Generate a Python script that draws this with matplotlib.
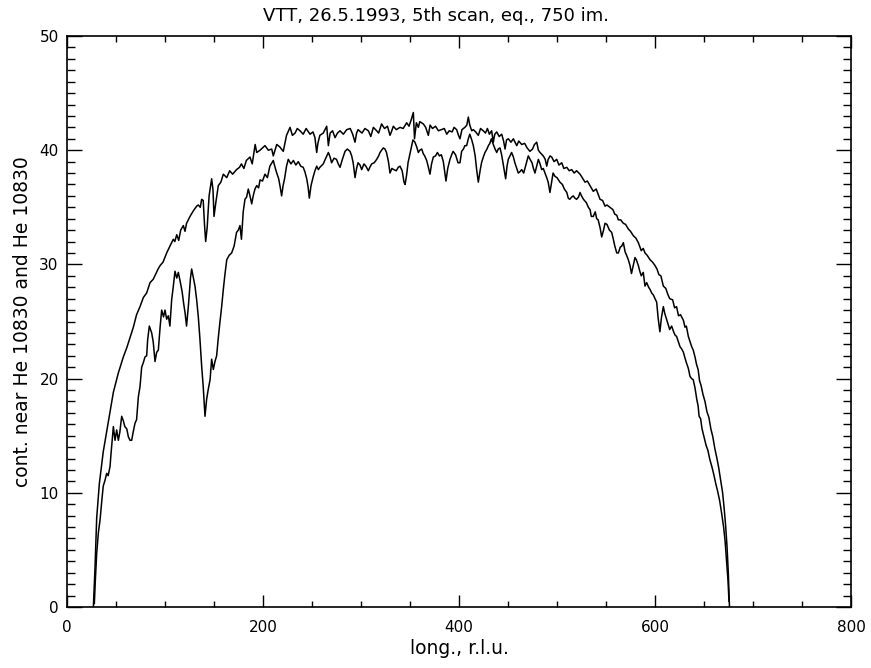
import matplotlib
matplotlib.use("Agg")
import matplotlib.pyplot as plt
from matplotlib.ticker import MultipleLocator

title = "VTT, 26.5.1993, 5th scan, eq., 750 im."
xlabel = "long., r.l.u."
ylabel = "cont. near He 10830 and He 10830"

# Upper curve (continuum near He 10830)
cont_x = [26.9, 28.6, 30.3, 33, 37, 42, 47.3, 52.4, 57.5, 61, 64.3, 67.7, 71, 74.5, 77.9, 81.3, 84.7, 88, 93, 95, 98,
          101.7, 105, 108.5, 110, 112, 114, 116, 118.7, 120.4, 122, 125.5, 129, 132.3, 134, 136, 137.4, 139, 140.3,
          141.5, 143, 145, 147.6, 149, 150, 152, 154.4, 157, 159.5, 163, 166, 169, 173, 176, 178, 180.5, 183, 186.7,
          189, 192, 193.6, 197, 202, 205.5, 208.9, 210.5, 214, 217, 220.7, 224, 227.6, 230, 232.7, 235, 237.8, 241,
          244, 248, 251, 253, 254.8, 256, 258, 261.5, 265, 266.7, 268.5, 271, 273.5, 276, 278.6, 282, 285.4, 289,
          291.5, 293.9, 295.5, 297, 301, 304, 307.5, 310, 312.6, 316, 318, 321, 324, 327, 329.6, 331, 333, 336,
          339.8, 343, 346.6, 349, 351, 353.4, 354.6, 356.5, 358.5, 360, 363.6, 366, 368.7, 370.5, 373, 376, 379, 382,
          385, 387.5, 390, 393, 395, 397.6, 399.5, 401, 403, 406, 408, 409.5, 411, 413, 414.6, 417, 419.7, 422,
          424.8, 427, 429, 431, 433.3, 435, 436.5, 438.5, 441, 443.6, 445.5, 447, 448.5, 450.3, 453, 455.5, 458.9,
          461, 464, 467, 469.5, 472.4, 475, 477, 479.3, 481, 482.7, 486, 488, 489.5, 491, 493, 494.6, 497, 499.7,
          502, 504.8, 507, 510, 512.5, 515, 517.5, 520, 523.5, 525, 528.6, 531, 533.7, 537, 540, 543.9, 546.5, 549,
          551, 554, 557, 559, 561, 562.6, 565, 567.7, 570, 572.8, 575, 578, 580.5, 583, 586, 588, 589.8, 592, 595,
          597.5, 600, 602, 604, 606, 608.5, 611, 613, 615, 618, 620, 622, 624, 626, 629, 630.6, 632, 634, 635.5,
          637.4, 639, 640.8, 642.5, 644, 645.5, 647, 649, 651, 653, 655, 657, 659, 661, 663, 665, 667, 669, 670.5,
          672, 673.5, 674.8, 676]
cont_y = [0.0, 3.5, 7.8, 10.8, 13.6, 16.1, 18.8, 20.5, 21.9, 22.7, 23.6, 24.5, 25.6, 26.3, 27.1, 27.5, 28.4, 28.7, 29.6,
          29.9, 30.2, 31.0, 31.6, 32.2, 32.0, 32.6, 32.1, 33.0, 33.4, 32.9, 33.6, 34.2, 34.7, 35.1, 35.2, 35.0, 35.7,
          35.6, 33.5, 32.0, 33.2, 36.0, 37.5, 36.5, 34.2, 35.5, 36.9, 37.2, 37.9, 37.6, 38.2, 37.9, 38.3, 38.5, 38.8,
          38.4, 39.1, 39.4, 38.8, 40.5, 39.8, 40.0, 40.4, 40.0, 40.1, 39.5, 40.5, 40.3, 39.9, 41.3, 42.0, 41.3, 41.5,
          41.9, 41.7, 41.4, 41.9, 41.4, 41.6, 41.1, 39.8, 40.6, 41.3, 41.5, 42.1, 40.4, 41.5, 41.7, 41.1, 41.5, 41.7,
          41.4, 41.8, 41.9, 41.4, 40.7, 41.5, 41.8, 41.5, 41.9, 41.7, 41.2, 42.0, 41.7, 41.5, 42.3, 41.9, 42.1, 41.3,
          41.6, 42.1, 41.8, 42.0, 41.9, 42.4, 42.1, 42.6, 43.3, 41.0, 42.4, 42.0, 42.5, 42.3, 42.0, 41.3, 42.2, 41.9,
          42.1, 41.7, 41.8, 41.9, 41.4, 41.7, 41.6, 42.0, 41.8, 41.3, 41.0, 41.8, 42.0, 42.2, 42.9, 42.2, 41.7, 41.8,
          41.6, 41.3, 41.9, 41.7, 41.5, 41.9, 41.4, 41.7, 40.7, 41.4, 41.6, 41.2, 41.4, 40.8, 40.1, 40.9, 41.0, 40.7,
          41.0, 40.4, 40.8, 40.5, 40.6, 40.2, 39.9, 40.1, 40.5, 40.7, 40.0, 39.8, 39.5, 39.2, 38.6, 39.2, 39.5, 39.4,
          39.0, 39.2, 38.7, 38.9, 38.4, 38.5, 38.2, 38.3, 38.0, 38.2, 37.9, 37.7, 37.2, 37.3, 36.9, 36.4, 36.6, 35.7,
          35.6, 35.1, 35.2, 35.0, 34.8, 34.4, 34.3, 33.9, 33.9, 33.6, 33.5, 33.1, 32.9, 32.5, 32.3, 31.9, 31.2, 31.4,
          31.0, 30.8, 30.4, 30.2, 29.9, 29.6, 29.1, 29.0, 28.1, 27.9, 27.4, 27.0, 26.9, 26.2, 26.3, 25.5, 25.6, 25.1,
          24.5, 24.6, 23.7, 23.3, 22.8, 22.5, 21.9, 21.2, 20.8, 19.8, 19.4, 18.6, 18.0, 17.1, 16.6, 15.6, 14.9, 13.9,
          13.1, 12.2, 11.1, 10.0, 8.7, 7.2, 5.3, 3.0, 0.0]

# Lower curve (He 10830 line)
he_x = [27.9, 29, 30.3, 32, 33.7, 35.5, 37, 38.8, 40.5, 42, 43.9, 45, 47.3, 49, 50.7, 52.4, 53.9, 55.8, 57.5, 59, 61,
        62.6, 64.3, 66, 67.5, 69.4, 71, 72.8, 74.5, 76.2, 77.9, 79.6, 81.3, 82.3, 84, 86.4, 88, 89.8, 91.5, 93.2, 95,
        96.6, 98.5, 100, 101.7, 103.4, 105, 106.8, 108.5, 110.2, 112, 113.6, 115.5, 117.5, 119, 120.4, 122, 124,
        126, 127.2, 129, 130.6, 132.3, 134, 135.7, 137.4, 139, 140.8, 142.5, 144, 146, 147.6, 149.3, 151, 152.7,
        154.3, 156, 157.7, 159.5, 161, 163, 165.5, 168, 170.5, 173, 174.8, 176.5, 178, 179.8, 181.6, 183.3, 185,
        186.7, 188.5, 190, 191.8, 193.6, 195.5, 197, 199.5, 202, 204.5, 207, 210.5, 212, 214, 216, 217.5, 219,
        220.5, 222, 224, 225.8, 228.5, 231, 233.5, 236, 238.5, 241, 242.8, 244.6, 246, 247.3, 249, 251.3, 253,
        254.8, 256.5, 258, 261.5, 263.5, 266.7, 268.5, 270, 272.5, 275, 276.8, 278.6, 281, 283.7, 286, 288.8, 290.5,
        292, 293.9, 295.5, 297, 299, 300.7, 303, 305, 307.5, 309, 310.9, 313.5, 316, 318, 319.4, 321, 322.8, 324.5,
        326, 328, 329.6, 331.5, 333.5, 336, 338, 339.8, 342, 343.9, 345, 346.5, 348, 350, 351.7, 353, 355, 356.8,
        358.5, 360, 362, 363.5, 365, 367, 368.5, 370.4, 372, 373.8, 376, 378, 380, 382, 384, 386.7, 388.5, 390.8,
        392.5, 394, 396.5, 399, 401, 402.7, 404.5, 406, 407.8, 409.5, 411, 413, 414.6, 416.5, 418, 419.7, 421.5,
        423, 424.8, 426.5, 428.5, 430, 431.5, 433, 435, 436.8, 438.5, 440, 441.8, 443.5, 445.5, 447.6, 449, 450.3,
        452, 453.7, 455.5, 457, 459, 460.5, 462, 464, 466, 468.5, 470.7, 472.5, 474.5, 476, 477.5, 479.3, 481,
        482.7, 484.4, 486, 487.8, 489.5, 491, 492.8, 494.5, 496, 498, 500, 503, 505.5, 507.5, 510, 511.5, 513, 515,
        516.6, 518.3, 520, 522, 523.5, 525, 527, 530, 532, 533.7, 535, 537, 539, 540.5, 542, 544, 545.6, 547.5, 549,
        551, 553.5, 555.8, 557.5, 559, 561, 562.6, 564.5, 566, 567.7, 569.5, 571, 572.8, 574.5, 576, 577.8, 579.6,
        581, 583, 584.5, 586, 588, 589.8, 591.5, 593.5, 595, 596.6, 598.5, 600, 601.7, 603.2, 605, 606.5, 608.5,
        610, 611.8, 613.5, 615, 617, 619, 620.5, 622, 624, 625.5, 627.2, 629, 630.6, 632, 634, 635.7, 637.3, 639,
        640.8, 642.6, 644, 645, 646.5, 648, 650, 652, 654, 656, 658, 660, 662, 664, 666, 668, 670, 671.5, 673,
        674.5, 675.5]
he_y = [0.3, 2.5, 4.7, 6.5, 7.6, 9.3, 10.6, 11.1, 11.7, 11.5, 12.3, 13.5, 15.8, 14.6, 15.5, 14.6, 15.3, 16.7, 16.3,
        15.8, 15.6, 14.9, 14.6, 14.6, 15.3, 16.1, 16.4, 18.4, 19.3, 21.0, 21.4, 21.9, 22.0, 23.4, 24.6, 24.0, 23.2,
        21.5, 22.3, 22.5, 24.5, 26.0, 25.4, 26.0, 25.2, 25.5, 24.6, 26.9, 28.1, 29.4, 28.8, 29.3, 28.5, 27.6, 26.6,
        25.8, 24.6, 26.5, 28.8, 29.6, 28.8, 28.1, 26.9, 25.4, 23.4, 21.1, 19.3, 16.7, 18.2, 19.0, 19.9, 21.7, 20.8,
        21.5, 22.0, 23.5, 24.9, 26.2, 27.8, 29.0, 30.4, 30.8, 31.0, 31.6, 32.8, 33.0, 33.4, 32.2, 34.6, 35.7, 35.9,
        36.6, 36.0, 35.3, 36.0, 36.6, 36.9, 36.7, 37.4, 37.3, 37.9, 37.6, 38.6, 39.1, 38.6, 38.0, 37.5, 36.8, 36.0,
        36.9, 37.5, 38.6, 39.2, 38.8, 39.1, 38.7, 39.0, 38.6, 38.5, 38.1, 37.5, 36.8, 35.8, 36.9, 37.7, 38.2, 38.6,
        38.3, 38.5, 38.8, 39.2, 39.8, 39.4, 38.9, 39.3, 39.2, 38.8, 38.5, 39.2, 39.9, 40.1, 39.9, 39.5, 38.9, 37.6,
        38.4, 38.9, 38.7, 38.3, 38.8, 38.6, 38.2, 38.5, 38.8, 38.9, 39.2, 39.5, 39.8, 40.0, 40.2, 40.1, 39.8, 39.0,
        38.0, 38.4, 38.3, 38.2, 38.5, 38.6, 38.2, 37.2, 37.0, 37.8, 38.9, 39.7, 40.4, 40.9, 40.7, 40.3, 39.8, 40.0,
        40.1, 39.7, 39.5, 39.1, 38.6, 37.9, 38.8, 39.4, 39.5, 39.8, 39.5, 39.6, 39.0, 37.3, 38.4, 39.2, 39.6, 39.9,
        39.6, 38.9, 38.9, 39.9, 40.1, 40.4, 40.4, 41.0, 41.4, 40.9, 40.4, 39.5, 38.3, 37.2, 38.2, 38.9, 39.4, 39.8,
        40.1, 40.4, 40.6, 41.0, 40.5, 40.1, 39.8, 40.1, 40.2, 39.6, 38.6, 37.5, 38.6, 39.2, 39.5, 39.8, 39.4, 38.9,
        38.4, 38.0, 38.1, 38.3, 38.0, 38.8, 39.5, 39.2, 38.9, 38.4, 38.0, 38.6, 39.2, 38.8, 38.3, 38.4, 38.0, 37.6,
        37.2, 36.3, 37.2, 38.0, 37.7, 37.6, 37.2, 37.0, 36.6, 36.3, 35.8, 35.7, 35.9, 36.0, 35.8, 35.7, 35.9, 36.3,
        36.0, 35.7, 35.4, 35.0, 34.8, 34.2, 34.2, 34.6, 34.0, 33.9, 33.2, 32.4, 33.0, 33.6, 33.5, 33.0, 32.8, 32.2,
        31.6, 31.0, 31.0, 31.5, 31.6, 31.9, 31.1, 30.8, 30.4, 29.9, 29.2, 29.9, 30.6, 30.4, 29.9, 29.4, 29.0, 29.3,
        28.1, 28.4, 28.0, 27.8, 27.5, 27.3, 27.0, 26.7, 25.3, 24.1, 25.3, 26.3, 25.7, 25.2, 24.7, 24.3, 24.6, 24.1,
        23.8, 23.7, 23.2, 22.8, 22.6, 22.3, 21.8, 21.4, 20.9, 20.2, 20.0, 19.9, 19.2, 18.2, 17.6, 16.7, 16.5, 15.6,
        14.9, 14.2, 13.7, 12.9, 12.3, 11.6, 10.8, 10.1, 9.3, 8.2, 7.0, 5.8, 4.1, 2.3, 0.5]

xticks = [0, 200, 400, 600, 800]
yticks = [0, 10, 20, 30, 40, 50]

plt.rcParams['font.family'] = ['DejaVu Sans']
fig = plt.figure(figsize=(8.71, 6.68), dpi=100)
ax = fig.add_axes([67/871, 61/668, 784/871, 571/668])

ax.plot(cont_x, cont_y, color='black', lw=1.1)
ax.plot(he_x, he_y, color='black', lw=1.1)

ax.set_xlim(0, 800)
ax.set_ylim(0, 50)
ax.set_xticks(xticks)
ax.set_yticks(yticks)
ax.xaxis.set_minor_locator(MultipleLocator(50))
ax.yaxis.set_minor_locator(MultipleLocator(1))
ax.tick_params(which='both', direction='in', top=True, right=True, width=1.0, labelsize=11)
ax.tick_params(axis='x', which='major', length=8.5, pad=9)
ax.tick_params(axis='x', which='minor', length=4.3)
ax.tick_params(axis='y', which='major', length=11, pad=6)
ax.tick_params(axis='y', which='minor', length=5.5)
for s in ax.spines.values():
    s.set_linewidth(1.2)

fig.text(0.5, 1 - 16/668, title, fontsize=13, ha='center', va='center')
ax.set_xlabel(xlabel, fontsize=13.5, labelpad=3)
ax.set_ylabel(ylabel, fontsize=13.5, labelpad=5)

fig.savefig("out.png", dpi=100)
